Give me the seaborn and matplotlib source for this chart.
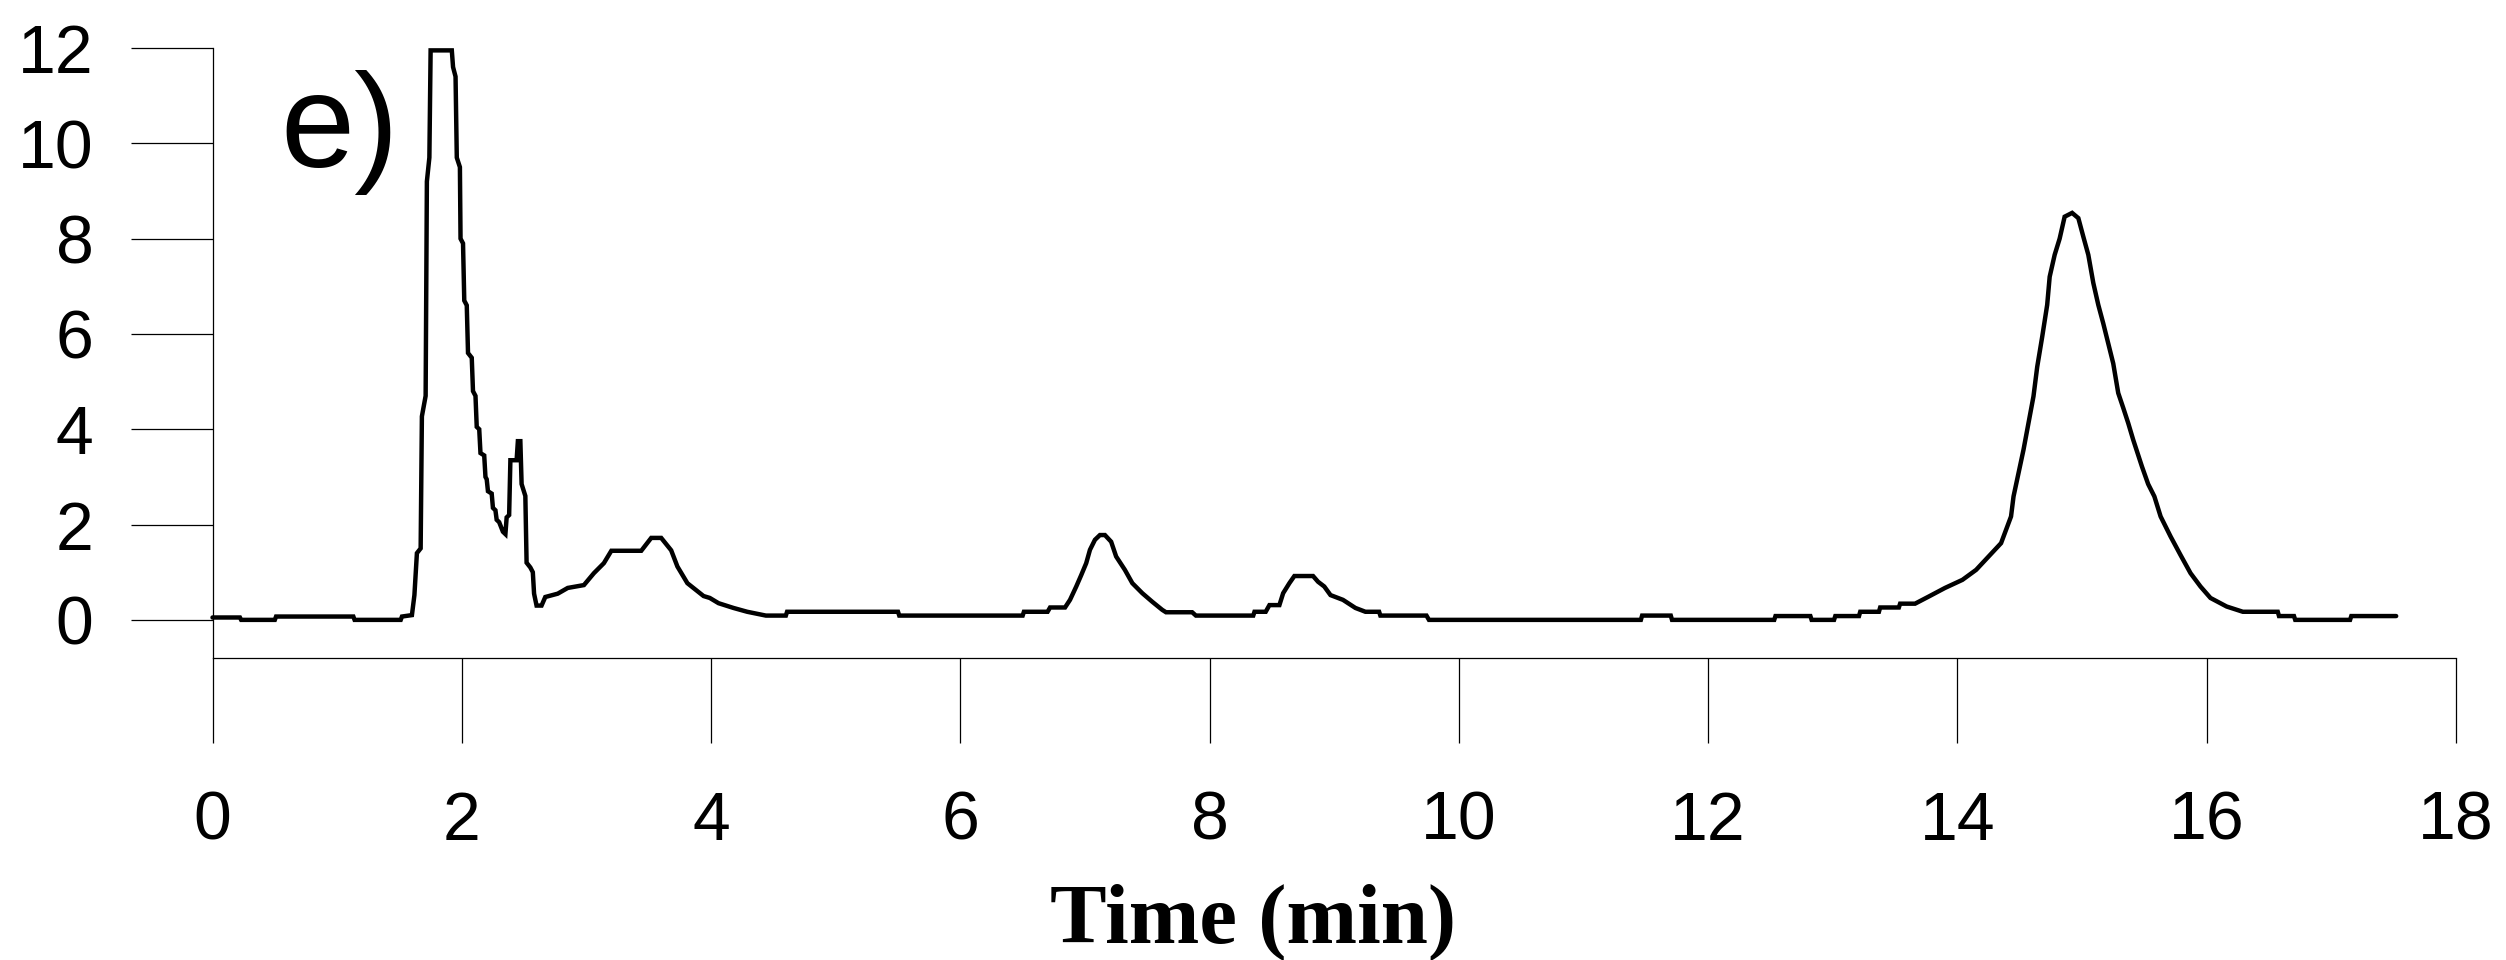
import matplotlib
matplotlib.use("Agg")
import matplotlib.pyplot as plt
import seaborn as sns
import pandas as pd

# ---- data ----
time_min = [
    0.00, 0.22, 0.23, 0.50, 0.51, 1.13, 1.14, 1.51, 1.52, 1.60,
    1.62, 1.64, 1.67, 1.68, 1.71, 1.72, 1.74, 1.75, 1.92, 1.93,
    1.95, 1.96, 1.985, 1.99, 2.01, 2.02, 2.04, 2.05, 2.08, 2.09,
    2.11, 2.12, 2.14, 2.15, 2.18, 2.19, 2.20, 2.21, 2.24, 2.25,
    2.27, 2.28, 2.30, 2.33, 2.35, 2.36, 2.38, 2.39, 2.44, 2.45,
    2.47, 2.48, 2.51, 2.52, 2.55, 2.57, 2.58, 2.60, 2.64, 2.67,
    2.77, 2.85, 2.98, 3.06, 3.14, 3.20, 3.44, 3.52, 3.60, 3.68,
    3.73, 3.81, 3.94, 3.99, 4.06, 4.18, 4.29, 4.44, 4.60, 4.61,
    5.50, 5.51, 6.50, 6.51, 6.70, 6.72, 6.84, 6.88, 6.93, 6.97,
    7.01, 7.04, 7.08, 7.12, 7.16, 7.21, 7.25, 7.32, 7.38, 7.46,
    7.54, 7.62, 7.65, 7.86, 7.89, 8.35, 8.36, 8.45, 8.48, 8.56,
    8.59, 8.64, 8.68, 8.83, 8.87, 8.92, 8.97, 9.07, 9.17, 9.25,
    9.36, 9.37, 9.74, 9.76, 11.46, 11.47, 11.70, 11.71, 12.53, 12.54,
    12.82, 12.83, 13.01, 13.02, 13.21, 13.22, 13.37, 13.38, 13.53, 13.54,
    13.66, 13.77, 13.90, 14.04, 14.15, 14.25, 14.35, 14.39, 14.43, 14.45,
    14.49, 14.53, 14.57, 14.61, 14.64, 14.68, 14.72, 14.74, 14.78, 14.82,
    14.86, 14.92, 14.97, 15.01, 15.05, 15.09, 15.13, 15.17, 15.21, 15.25,
    15.29, 15.33, 15.37, 15.41, 15.48, 15.53, 15.58, 15.63, 15.71, 15.79,
    15.87, 15.95, 16.03, 16.16, 16.29, 16.57, 16.58, 16.70, 16.71, 17.15,
    17.16, 17.52,
]
signal = [
    0.05, 0.05, 0.00, 0.00, 0.07, 0.07, 0.00, 0.00, 0.07, 0.10,
    0.52, 1.40, 1.50, 4.27, 4.70, 9.20, 9.70, 11.95, 11.95, 11.60,
    11.40, 9.70, 9.50, 8.00, 7.90, 6.70, 6.60, 5.60, 5.50, 4.80,
    4.70, 4.05, 4.00, 3.50, 3.45, 3.00, 2.95, 2.70, 2.65, 2.35,
    2.30, 2.10, 2.05, 1.85, 1.80, 2.15, 2.20, 3.35, 3.35, 3.75,
    3.75, 2.85, 2.60, 1.20, 1.10, 1.00, 0.55, 0.30, 0.30, 0.48,
    0.55, 0.67, 0.73, 0.98, 1.19, 1.45, 1.45, 1.72, 1.72, 1.46,
    1.12, 0.77, 0.50, 0.46, 0.35, 0.25, 0.17, 0.09, 0.09, 0.17,
    0.17, 0.09, 0.09, 0.17, 0.17, 0.26, 0.26, 0.42, 0.70, 0.94,
    1.19, 1.47, 1.68, 1.78, 1.78, 1.64, 1.33, 1.05, 0.77, 0.56,
    0.38, 0.21, 0.16, 0.16, 0.09, 0.09, 0.17, 0.17, 0.31, 0.31,
    0.56, 0.77, 0.92, 0.92, 0.80, 0.70, 0.52, 0.42, 0.25, 0.17,
    0.17, 0.09, 0.09, 0.00, 0.00, 0.09, 0.09, 0.00, 0.00, 0.08,
    0.08, 0.00, 0.00, 0.08, 0.08, 0.17, 0.17, 0.26, 0.26, 0.34,
    0.34, 0.49, 0.67, 0.84, 1.05, 1.33, 1.61, 1.89, 2.17, 2.59,
    3.08, 3.57, 4.13, 4.69, 5.31, 5.94, 6.61, 7.20, 7.66, 8.00,
    8.46, 8.54, 8.43, 8.04, 7.66, 7.07, 6.61, 6.22, 5.80, 5.38,
    4.76, 4.45, 4.13, 3.78, 3.22, 2.85, 2.59, 2.17, 1.75, 1.36,
    0.98, 0.70, 0.46, 0.28, 0.17, 0.17, 0.08, 0.08, 0.00, 0.00,
    0.08, 0.08,
]
x_ticks = [0, 2, 4, 6, 8, 10, 12, 14, 16, 18]
y_ticks = [0, 2, 4, 6, 8, 10, 12]
x_label = "Time (min)"
panel_label = "e)"

df = pd.DataFrame({"time": time_min, "signal": signal})

sns.set_theme(style="white")
plt.rcParams["font.family"] = ["Liberation Sans", "DejaVu Sans"]

W, H = 2506, 960
fig = plt.figure(figsize=(W / 100, H / 100), dpi=100)
left_px, right_px, top_px, bottom_px = 212.5, 2456, 48, 658
ax = fig.add_axes([left_px / W, 1 - bottom_px / H,
                   (right_px - left_px) / W, (bottom_px - top_px) / H])

sns.lineplot(data=df, x="time", y="signal", ax=ax, sort=False, estimator=None,
             color="black", linewidth=3.2, solid_capstyle="round",
             solid_joinstyle="miter", clip_on=False)

ax.set_xlim(0, 18)
ax.set_ylim(-0.80, 12)
ax.set_xticks(x_ticks)
ax.set_yticks(y_ticks)
ax.set_xticklabels([str(v) for v in x_ticks])
ax.set_yticklabels([str(v) for v in y_ticks])

for s in ["top", "right"]:
    ax.spines[s].set_visible(False)
for s in ["left", "bottom"]:
    ax.spines[s].set_color("black")
    ax.spines[s].set_linewidth(0.9)

ax.tick_params(axis="y", direction="out", length=58.7, width=0.9, color="black",
               labelsize=49, pad=27, labelcolor="black", left=True)
ax.tick_params(axis="x", direction="out", length=61, width=0.9, color="black",
               labelsize=49, pad=34, labelcolor="black", bottom=True)

ax.set_xlabel("")
ax.set_ylabel("")

fig.text(1253 / W, 1 - 943 / H, x_label, ha="center", va="baseline",
         fontsize=61, fontweight="bold", family=["Liberation Serif", "DejaVu Serif"],
         color="black")
fig.text(280 / W, 1 - 167 / H, panel_label, ha="left", va="baseline",
         fontsize=96, color="black")

fig.savefig("out.png", dpi=100, facecolor="white")
